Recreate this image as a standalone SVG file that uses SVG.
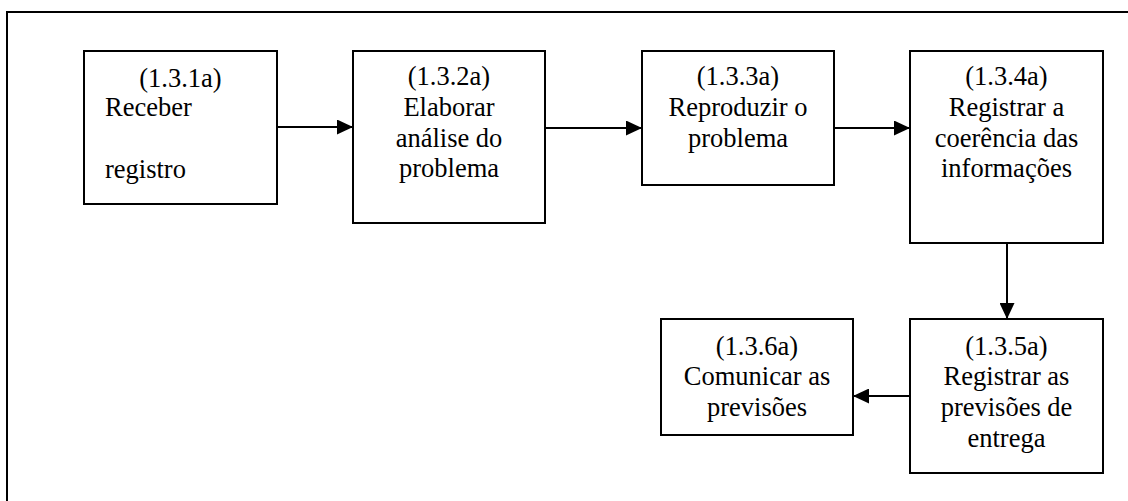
<svg xmlns="http://www.w3.org/2000/svg" width="1128" height="501" viewBox="0 0 1128 501">
  <style>
    .box { fill: #fff; stroke: #000; stroke-width: 2; }
    .lbl { font-size: 26.5px; fill: #000; }
    .c { text-anchor: middle; }
    .edge { stroke: #000; stroke-width: 2; fill: none; marker-end: url(#arrow); }
  </style>
  <defs>
    <marker id="arrow" markerUnits="userSpaceOnUse" markerWidth="17" markerHeight="15" refX="16" refY="7.5" orient="auto">
      <path d="M0,0 L16,7.5 L0,15 Z" fill="#000"/>
    </marker>
  </defs>

  <rect width="1128" height="501" fill="#fff"/>
  <!-- outer frame -->
  <rect x="7" y="12" width="1130" height="500" fill="none" stroke="#000" stroke-width="2"/>

  <g id="connectors">
    <line class="edge" x1="277" y1="127" x2="353" y2="127"/>
    <line class="edge" x1="545" y1="128" x2="642" y2="128"/>
    <line class="edge" x1="834" y1="128" x2="910" y2="128"/>
    <line class="edge" x1="1007" y1="243" x2="1007" y2="319"/>
    <line class="edge" x1="910" y1="396" x2="853" y2="396"/>
  </g>

  <g font-family="'Liberation Serif', 'Times New Roman', 'DejaVu Serif', serif">
    <g id="n131a">
      <rect class="box" x="84" y="51" width="193" height="153"/>
      <text class="lbl c" x="180.5" y="87">(1.3.1a)</text>
      <text class="lbl" x="105" y="116">Receber</text>
      <text class="lbl" x="105" y="178">registro</text>
    </g>

    <g id="n132a">
      <rect class="box" x="353" y="51" width="192" height="172"/>
      <text class="lbl c" x="449" y="85">(1.3.2a)</text>
      <text class="lbl c" x="449" y="116">Elaborar</text>
      <text class="lbl c" x="449" y="147">análise do</text>
      <text class="lbl c" x="449" y="177">problema</text>
    </g>

    <g id="n133a">
      <rect class="box" x="642" y="51" width="192" height="134"/>
      <text class="lbl c" x="738" y="85">(1.3.3a)</text>
      <text class="lbl c" x="738" y="116">Reproduzir o</text>
      <text class="lbl c" x="738" y="147">problema</text>
    </g>

    <g id="n134a">
      <rect class="box" x="910" y="51" width="193" height="192"/>
      <text class="lbl c" x="1006.5" y="85">(1.3.4a)</text>
      <text class="lbl c" x="1006.5" y="116">Registrar a</text>
      <text class="lbl c" x="1006.5" y="147">coerência das</text>
      <text class="lbl c" x="1006.5" y="177">informações</text>
    </g>

    <g id="n135a">
      <rect class="box" x="910" y="319" width="193" height="154"/>
      <text class="lbl c" x="1006.5" y="355">(1.3.5a)</text>
      <text class="lbl c" x="1006.5" y="385">Registrar as</text>
      <text class="lbl c" x="1006.5" y="416">previsões de</text>
      <text class="lbl c" x="1006.5" y="447">entrega</text>
    </g>

    <g id="n136a">
      <rect class="box" x="661" y="319" width="192" height="116"/>
      <text class="lbl c" x="757" y="355">(1.3.6a)</text>
      <text class="lbl c" x="757" y="385">Comunicar as</text>
      <text class="lbl c" x="757" y="416">previsões</text>
    </g>
  </g>
</svg>
